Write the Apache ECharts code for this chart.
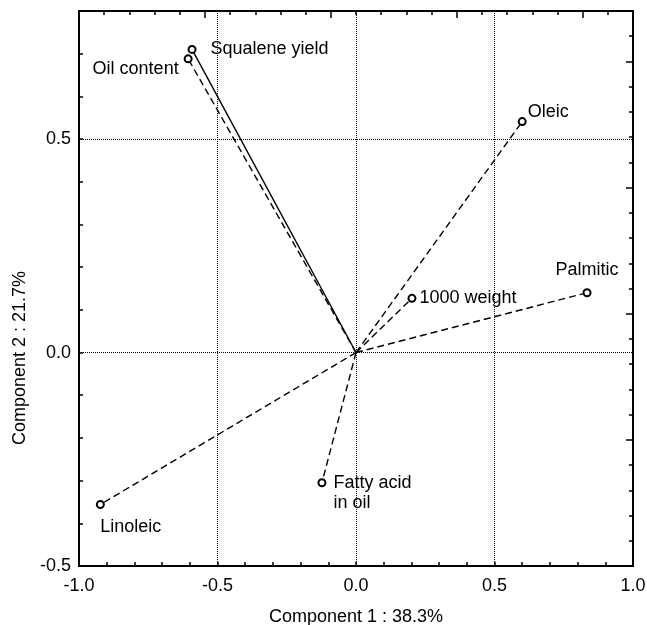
<!DOCTYPE html>
<html>
<head>
<meta charset="utf-8">
<script src="https://cdn.jsdelivr.net/npm/echarts@6/dist/echarts.min.js"></script>
<style>
    html, body { margin: 0; padding: 0; background: #fff; }
    #myCharts { width: 647px; height: 625px; }
</style>
</head>
<body>
<div id="myCharts"></div>
<script>
// loadings of the variables (component 1 / component 2)
const variables = ["Squalene yield", "Oil content", "Oleic", "Palmitic", "1000 weight", "Fatty acid\nin oil", "Linoleic"];
const comp1 = [-0.592, -0.606, 0.600, 0.834, 0.202, -0.123, -0.923];
const comp2 = [0.710, 0.688, 0.541, 0.140, 0.127, -0.305, -0.356];
const xTitle = "Component 1 : 38.3%";
const yTitle = "Component 2 : 21.7%";

const FONT = "Liberation Sans";
const FS = 18;

// label placement per variable
const labelPos = {
    "Squalene yield": { position: "right", distance: 14 },
    "Oil content": { position: "left", distance: 5, offset: [0, 10] },
    "Oleic": { position: "right", distance: 1, offset: [0, -10] },
    "Palmitic": { position: "top", distance: 9 },
    "1000 weight": { position: "right", distance: 3 },
    "Fatty acid\nin oil": { position: "right", distance: 7, offset: [0, 10], lineHeight: 20 },
    "Linoleic": { position: "bottom", distance: 9, align: "left" }
};

function fmt(v) {
    const r = Math.round(v * 10);
    if (r % 5 !== 0) return "";
    return (r / 10).toFixed(1);
}

const tickAxis = (pos, min, max, interval, len, labels) => ({
    type: "value",
    position: pos,
    min: min,
    max: max,
    interval: interval,
    axisLine: { show: false, onZero: false },
    axisTick: { show: true, inside: true, length: len, lineStyle: { color: "#000", width: 1.5 } },
    axisLabel: labels ? {
        show: true, formatter: fmt, color: "#000",
        fontFamily: FONT, fontSize: FS, margin: pos === "left" ? 8 : 11
    } : { show: false },
    splitLine: { show: false }
});

const gridAxis = (pos, min, max) => ({
    type: "value",
    position: pos,
    min: min,
    max: max,
    interval: 0.5,
    axisLine: { show: false, onZero: false },
    axisTick: { show: false },
    axisLabel: { show: false },
    splitLine: { show: true, lineStyle: { color: "#000", type: "dotted", width: 1 } }
});

const series = variables.map((name, i) => {
    const lp = labelPos[name];
    return {
        name: name,
        type: "line",
        xAxisIndex: 0,
        yAxisIndex: 0,
        animation: false,
        symbol: "emptyCircle",
        symbolSize: 7,
        showSymbol: true,
        lineStyle: { color: "#000", width: 1.4, type: name === "Squalene yield" ? "solid" : [7, 4] },
        itemStyle: { color: "#000", borderColor: "#000", borderWidth: 1.6 },
        data: [
            { value: [0, 0], symbol: "none" },
            {
                value: [comp1[i], comp2[i]],
                label: Object.assign({
                    show: true,
                    formatter: name,
                    color: "#000",
                    fontFamily: FONT,
                    fontSize: FS
                }, lp)
            }
        ],
        z: 3
    };
});

const chart = echarts.init(document.getElementById("myCharts"));
chart.setOption({
    backgroundColor: "#fff",
    animation: false,
    grid: {
        left: 79, right: 14, top: 11, bottom: 59,
        containLabel: false,
        outerBoundsMode: "none",
        show: true, borderColor: "#000", borderWidth: 2, backgroundColor: "#fff"
    },
    xAxis: [
        Object.assign(tickAxis("bottom", -1, 1, 0.1, 4, true), {
            name: xTitle, nameLocation: "middle", nameGap: 42,
            nameTextStyle: { color: "#000", fontFamily: FONT, fontSize: FS }
        }),
        gridAxis("bottom", -1, 1),
        tickAxis("top", -1, 21, 1, 4, false),
        tickAxis("top", -1, 21, 5, 7, false)
    ],
    yAxis: [
        tickAxis("left", -0.5, 0.8, 0.1, 4, true),
        gridAxis("left", -0.5, 0.8),
        tickAxis("right", -1, 21, 1, 4, false),
        tickAxis("right", -1, 21, 5, 7, false)
    ],
    graphic: [{
        type: "text",
        x: 20,
        y: 358,
        rotation: Math.PI / 2,
        style: {
            text: yTitle,
            fill: "#000",
            font: FS + "px " + FONT,
            textAlign: "center",
            textVerticalAlign: "middle"
        }
    }],
    series: series
});
</script>
</body>
</html>
